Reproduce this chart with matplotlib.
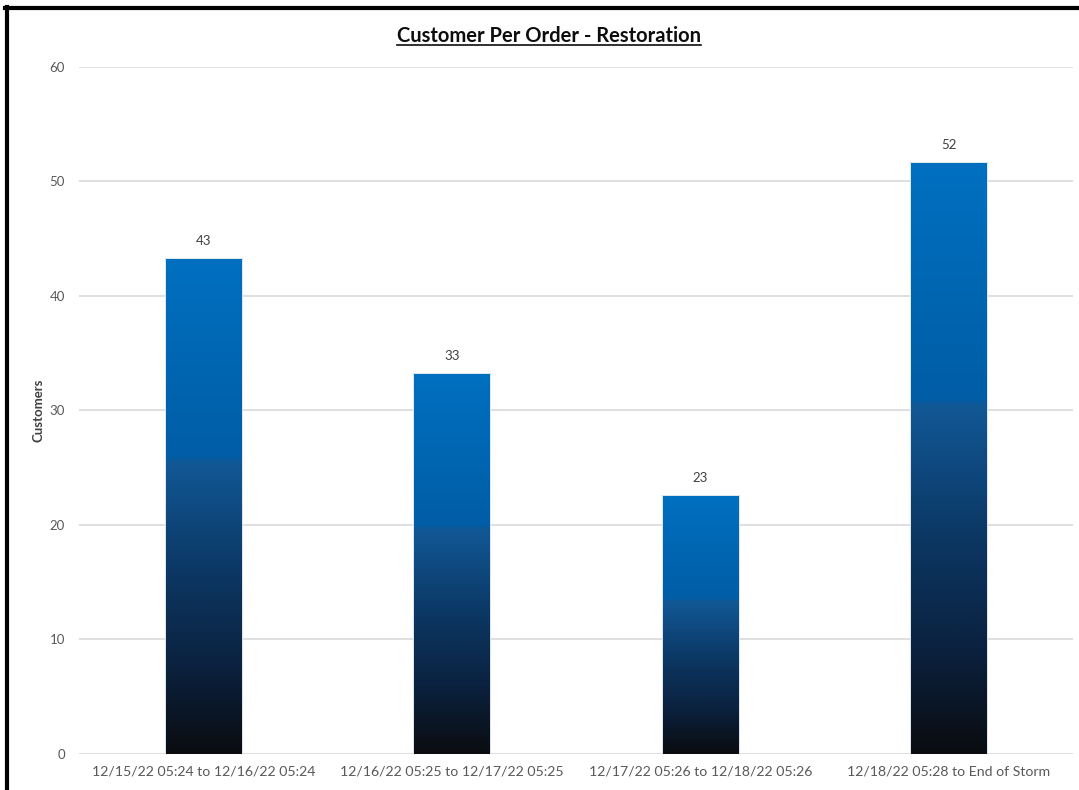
import numpy as np
import matplotlib
matplotlib.use('Agg')
import matplotlib.pyplot as plt
from matplotlib.colors import LinearSegmentedColormap
from matplotlib.lines import Line2D

# chart data
periods = ['12/15/22 05:24 to 12/16/22 05:24',
           '12/16/22 05:25 to 12/17/22 05:25',
           '12/17/22 05:26 to 12/18/22 05:26',
           '12/18/22 05:28 to End of Storm']
customers = [43.3, 33.3, 22.6, 51.7]
y_ticks = [0, 10, 20, 30, 40, 50, 60]

plt.rcParams['font.family'] = ['Lato', 'DejaVu Sans']

# blue -> black gradient, like the excel fill (0 = bottom, 1 = top)
grad = LinearSegmentedColormap.from_list('excel_blue', [
    (0.00, '#0a0c10'),
    (0.18, '#0b2240'),
    (0.35, '#0b3560'),
    (0.59, '#115896'),
    (0.60, '#005da6'),
    (1.00, '#0070c0'),
])

fig = plt.figure(figsize=(10.79, 7.90), dpi=100)
ax = fig.add_axes([0.0732, 0.0456, 0.9212, 0.8696])

x = np.arange(len(periods))
bars = ax.bar(x, customers, width=0.31, facecolor='none',
              edgecolor='#e3ebf3', linewidth=0.7, zorder=3)

g = np.linspace(0, 1, 256).reshape(-1, 1)
for b in bars:
    x0, y0 = b.get_x(), b.get_y()
    w, h = b.get_width(), b.get_height()
    im = ax.imshow(g, cmap=grad, origin='lower', aspect='auto',
                   extent=[x0, x0 + w, y0, y0 + h], zorder=2)
    im.set_clip_path(b)

for xi, v in zip(x, customers):
    ax.annotate('%.0f' % v, (xi, v), xytext=(0, 8), textcoords='offset points',
                ha='center', va='bottom', fontsize=9.5, color='#404040')

ax.set_xlim(-0.5, len(periods) - 0.5)
ax.set_ylim(0, 60)
ax.set_yticks(y_ticks)
ax.set_xticks(x)
ax.set_xticklabels(periods, fontsize=10.2, color='#595959')
ax.tick_params(axis='y', labelsize=9.5, labelcolor='#595959', length=0, pad=10)
ax.tick_params(axis='x', length=0, pad=8)
ax.grid(axis='y', color='#d9d9d9', linewidth=1.2, zorder=0)
ax.set_axisbelow(True)
for s in ax.spines.values():
    s.set_visible(False)

ax.set_ylabel('Customers', fontsize=9.5, fontweight='bold', color='#404040', labelpad=4)

title = fig.text(0.509, 0.955, 'Customer Per Order - Restoration', ha='center', va='center',
                 fontsize=14.5, fontweight='bold', color='#0d0d0d')

# underline the title
fig.canvas.draw()
bb = title.get_window_extent(renderer=fig.canvas.get_renderer())
bb = bb.transformed(fig.transFigure.inverted())
fig.add_artist(Line2D([bb.x0, bb.x1], [bb.y0 + 0.001, bb.y0 + 0.001],
                      transform=fig.transFigure, color='#0d0d0d', linewidth=1.2))

# black frame on top and left
fig.add_artist(Line2D([0.005, 1.0], [0.9895, 0.9895], transform=fig.transFigure,
                      color='black', linewidth=3))
fig.add_artist(Line2D([0.0065, 0.0065], [0.0, 0.991], transform=fig.transFigure,
                      color='black', linewidth=3))

fig.savefig('out.png', dpi=100)
